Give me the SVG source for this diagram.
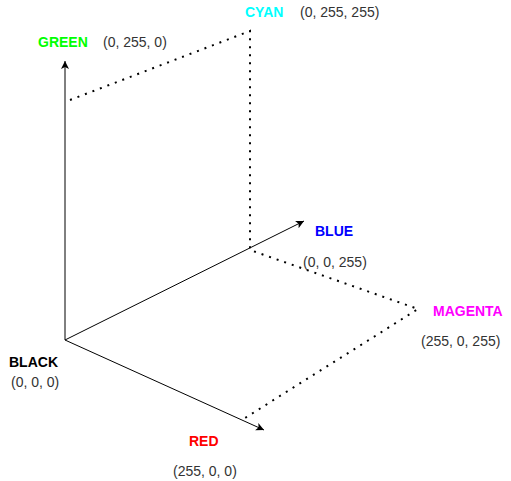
<svg xmlns="http://www.w3.org/2000/svg" width="511" height="481" viewBox="0 0 511 481">
<defs>
<marker id="arr" markerWidth="10" markerHeight="10" refX="8" refY="4" orient="auto" markerUnits="userSpaceOnUse">
<path d="M0,0 L8,4 L0,8 L2,4 Z" fill="#000"/>
</marker>
</defs>
<style>
.axis{stroke:#000;stroke-width:1;fill:none}
.dot{stroke:#000;stroke-width:2;fill:none;stroke-dasharray:2 6}
.lbl{font-family:"Liberation Sans",Arial,sans-serif;font-size:14px;font-weight:bold}
.val{font-family:"Liberation Sans",Arial,sans-serif;font-size:14px;fill:#333}
</style>
<rect width="511" height="481" fill="#fff"/>
<g id="connectors">
<line class="axis" x1="65" y1="340" x2="65" y2="61" marker-end="url(#arr)"/>
<line class="axis" x1="65" y1="340" x2="304" y2="221" marker-end="url(#arr)"/>
<line class="axis" x1="65" y1="340" x2="264" y2="430" marker-end="url(#arr)"/>
<polyline class="dot" points="70,100 250,31 250,250 418,309 245,418"/>
</g>
<g id="green"><text class="lbl" x="38" y="47" fill="#00FF00">GREEN</text><text class="val" x="103" y="47">(0, 255, 0)</text></g>
<g id="cyan"><text class="lbl" x="245" y="17" fill="#00FFFF">CYAN</text><text class="val" x="300" y="17">(0, 255, 255)</text></g>
<g id="blue"><text class="lbl" x="315" y="236" fill="#0000FF">BLUE</text><text class="val" x="303" y="267">(0, 0, 255)</text></g>
<g id="magenta"><text class="lbl" x="433" y="316" fill="#FF00FF">MAGENTA</text><text class="val" x="421" y="346">(255, 0, 255)</text></g>
<g id="black"><text class="lbl" x="9" y="367" fill="#000">BLACK</text><text class="val" x="11" y="387">(0, 0, 0)</text></g>
<g id="red"><text class="lbl" x="189" y="446" fill="#FF0000">RED</text><text class="val" x="173" y="476">(255, 0, 0)</text></g>
</svg>
